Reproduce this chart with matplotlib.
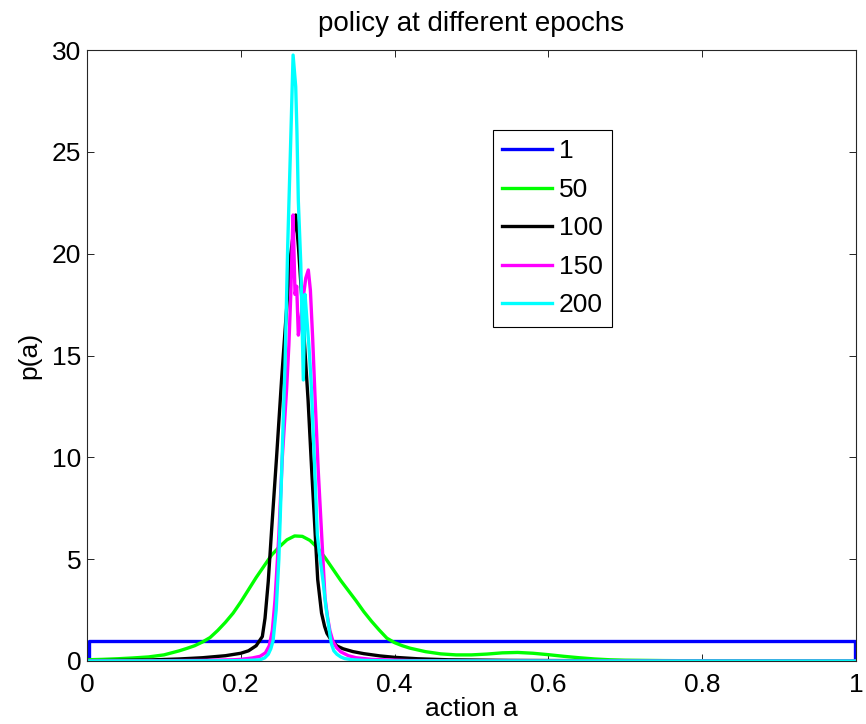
import matplotlib

matplotlib.use("Agg")
import matplotlib.pyplot as plt
from matplotlib.ticker import FuncFormatter

plt.rcParams["font.family"] = ["Liberation Sans", "DejaVu Sans"]

# epoch labels and colours of the five policies
EPOCHS = ["1", "50", "100", "150", "200"]
COLORS = ["#0000ff", "#00ff00", "#000000", "#ff00ff", "#00ffff"]

# epoch 1: uniform policy
x_e1 = [0.0, 0.003, 0.003, 0.997, 0.999, 0.999, 1.0]
y_e1 = [0.0, 0.0, 1.0, 1.0, 1.0, 0.0, 0.0]

# epoch 50
x_e50 = [0.0, 0.02, 0.04, 0.06, 0.08, 0.10, 0.12, 0.13, 0.14, 0.15, 0.16, 0.17,
         0.18, 0.19, 0.20, 0.21, 0.22, 0.23, 0.24, 0.25, 0.26, 0.27, 0.28, 0.29,
         0.30, 0.31, 0.32, 0.33, 0.34, 0.35, 0.36, 0.37, 0.38, 0.39, 0.40, 0.41,
         0.42, 0.44, 0.46, 0.48, 0.50, 0.52, 0.54, 0.56, 0.58, 0.60, 0.62, 0.64,
         0.66, 0.68, 0.70, 0.75, 0.80, 1.0]
y_e50 = [0.06, 0.08, 0.11, 0.15, 0.2, 0.3, 0.5, 0.62, 0.75, 0.93, 1.15, 1.5,
         1.9, 2.35, 2.9, 3.5, 4.1, 4.65, 5.2, 5.6, 5.95, 6.14, 6.12, 5.92,
         5.55, 5.05, 4.5, 3.95, 3.45, 2.95, 2.42, 1.95, 1.52, 1.12, 0.9, 0.75,
         0.63, 0.46, 0.35, 0.3, 0.3, 0.34, 0.4, 0.42, 0.38, 0.31, 0.23, 0.16,
         0.1, 0.06, 0.04, 0.02, 0.01, 0.0]

# epoch 100
x_e100 = [0.0, 0.04, 0.08, 0.12, 0.15, 0.18, 0.20, 0.21, 0.22, 0.228, 0.2315, 0.2357,
          0.240, 0.2465, 0.253, 0.259, 0.265, 0.2714, 0.275, 0.279, 0.283, 0.2875,
          0.292, 0.2965, 0.300, 0.305, 0.309, 0.312, 0.318, 0.325, 0.333, 0.346,
          0.36, 0.381, 0.40, 0.43, 0.47, 0.55, 0.7, 1.0]
y_e100 = [0.01, 0.03, 0.05, 0.1, 0.16, 0.26, 0.38, 0.5, 0.75, 1.2, 2.1, 3.9,
          6.4, 10.0, 13.8, 17.0, 20.0, 21.9, 20.3, 18.0, 15.5, 12.8,
          9.5, 6.4, 4.0, 2.35, 1.7, 1.36, 1.0, 0.74, 0.6, 0.46,
          0.36, 0.25, 0.18, 0.11, 0.06, 0.03, 0.01, 0.0]

# epoch 150
x_e150 = [0.0, 0.08, 0.15, 0.19, 0.20, 0.215, 0.225, 0.232, 0.237, 0.241, 0.2445,
          0.2495, 0.254, 0.2595, 0.2625, 0.265, 0.2672, 0.268, 0.2705, 0.2727, 0.2748,
          0.2775, 0.281, 0.2845, 0.2878, 0.2905, 0.2935, 0.2965, 0.3005, 0.305, 0.3095,
          0.313, 0.316, 0.320, 0.3247, 0.33, 0.34, 0.35, 0.37, 0.42, 0.5, 1.0]
y_e150 = [0.0, 0.01, 0.03, 0.06, 0.08, 0.15, 0.23, 0.4, 0.75, 1.5, 3.0,
          6.2, 10.0, 13.3, 15.5, 18.0, 21.0, 21.9, 18.0, 18.4, 16.0,
          16.6, 17.8, 18.8, 19.2, 18.2, 15.8, 13.0, 9.5, 6.3, 3.1,
          2.1, 1.47, 0.95, 0.65, 0.45, 0.26, 0.16, 0.08, 0.02, 0.0, 0.0]

# epoch 200
x_e200 = [0.0, 0.1, 0.18, 0.21, 0.225, 0.231, 0.2357, 0.239, 0.242, 0.246, 0.2495,
          0.2525, 0.2553, 0.2575, 0.259, 0.261, 0.2645, 0.268, 0.2714, 0.273, 0.2748,
          0.278, 0.2813, 0.2835, 0.2855, 0.2885, 0.2913, 0.2955, 0.2995, 0.3025, 0.307,
          0.3105, 0.314, 0.316, 0.318, 0.321, 0.325, 0.33, 0.335, 0.345, 0.36, 0.4, 1.0]
y_e200 = [0.0, 0.0, 0.01, 0.03, 0.06, 0.15, 0.33, 0.6, 1.0, 2.5, 5.0,
          8.5, 12.0, 14.5, 17.0, 20.4, 25.0, 29.75, 28.2, 26.0, 22.6,
          19.5, 13.8, 18.0, 17.0, 15.5, 13.8, 10.0, 6.2, 5.2, 3.9,
          2.7, 1.8, 1.25, 0.82, 0.5, 0.33, 0.2, 0.12, 0.06, 0.03, 0.0, 0.0]

X_TICKS = [0, 0.2, 0.4, 0.6, 0.8, 1]
Y_TICKS = [0, 5, 10, 15, 20, 25, 30]

series = [(x_e1, y_e1), (x_e50, y_e50), (x_e100, y_e100), (x_e150, y_e150), (x_e200, y_e200)]

FS = 19
fig = plt.figure(figsize=(8.66, 7.24), dpi=100)
ax = fig.add_axes([87 / 866, 63 / 724, 769 / 866, 611 / 724])

for (xs, ys), lab, col in zip(series, EPOCHS, COLORS):
    ax.plot(xs, ys, color=col, lw=2.4, label=lab, solid_joinstyle="round")

ax.set_xlim(0, 1)
ax.set_ylim(0, 30)
ax.set_xticks(X_TICKS)
ax.set_yticks(Y_TICKS)
ax.xaxis.set_major_formatter(FuncFormatter(lambda v, p: f"{v:g}"))
ax.tick_params(direction="in", length=5, width=0.6, top=True, right=True,
               labelsize=FS)
ax.tick_params(axis="x", pad=9)
ax.tick_params(axis="y", pad=4)
for s in ax.spines.values():
    s.set_linewidth(0.8)
    s.set_color("0.15")

ax.set_xlabel("action a", fontsize=FS, labelpad=0)
ax.set_ylabel("p(a)", fontsize=FS, labelpad=8)
ax.set_title("policy at different epochs", fontsize=20, pad=14)

leg = ax.legend(loc="upper left", bbox_to_anchor=(0.5276, 0.869), borderaxespad=0,
                fontsize=FS, frameon=True, fancybox=False, framealpha=1,
                edgecolor="k", handlelength=1.9, handletextpad=0.25,
                borderpad=0.35, labelspacing=0.55)
leg.get_frame().set_linewidth(0.8)

fig.savefig("out.png", dpi=100)
